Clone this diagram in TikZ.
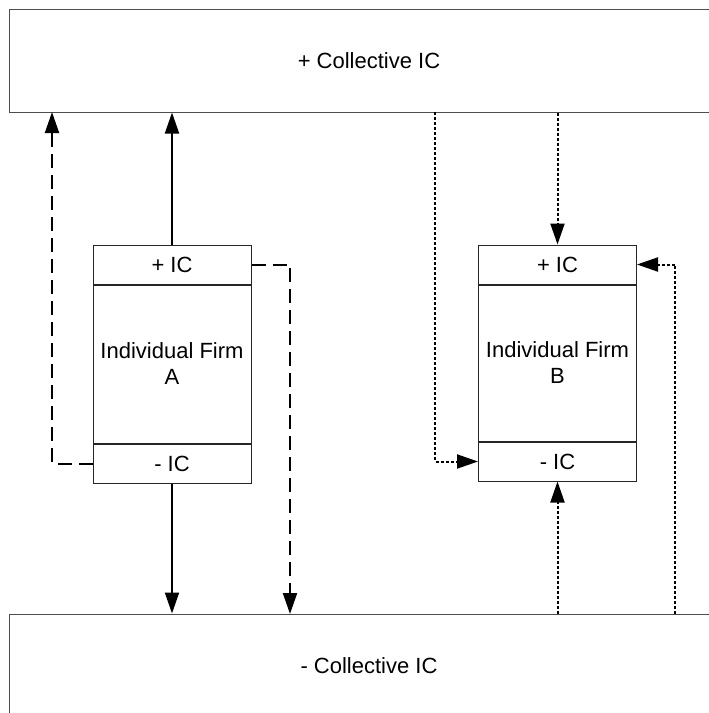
\documentclass[tikz,border=0pt]{standalone}
\usepackage{fontspec}
\setmainfont{Liberation Sans}
\usetikzlibrary{positioning, arrows.meta}
\tikzset{>={Triangle[length=21pt,width=14pt]}}
\tikzset{
    level/.style={draw=black!70, line width=1pt, minimum width=720pt, minimum height=103pt, inner sep=0pt},
    part/.style={draw=black!85, line width=1pt, minimum width=158pt, minimum height=39pt, inner sep=0pt, align=center},
    flow/.style={->, line width=2pt},
    flowdash/.style={flow, dash pattern=on 14pt off 7pt},
    flowdot/.style={flow, dash pattern=on 3pt off 2pt},
}

\begin{document}
\begin{tikzpicture}[x=1pt,y=-1pt,font=\fontsize{22}{26}\selectfont]
    \useasboundingbox (0,0) rectangle (709,713);
    % collective levels
    \node[level] (pos) at (369,60.5) {+ Collective IC};
    \node[level] (neg) at (369,665.5) {- Collective IC};
    % firm A
    \node[part] (Aplus) at (172,264.5) {+ IC};
    \node[part, minimum height=158pt, below=0pt of Aplus] (Abody) {Individual Firm\\A};
    \node[part, below=0pt of Abody] (Aminus) {- IC};
    % firm B
    \node[part] (Bplus) at (557.5,264.5) {+ IC};
    \node[part, minimum height=156pt, below=0pt of Bplus] (Bbody) {Individual Firm\\B};
    \node[part, below=0pt of Bbody] (Bminus) {- IC};
    \coordinate (dashL) at (52,112);
    \coordinate (dashR) at (290,614);
    \coordinate (dotL) at (435,112);
    \coordinate (dotR) at (675,614);
    \draw[flow] (Aplus.north) -- (Aplus.north |- pos.south);
    \draw[flow] (Aminus.south) -- (Aminus.south |- neg.north);
    \draw[flowdash] (Aminus.west) -| (dashL);
    \draw[flowdash] (Aplus.east) -| (dashR);
    \draw[flowdot] (dotL) |- (Bminus.west);
    \draw[flowdot] (Bplus.north |- pos.south) -- (Bplus.north);
    \draw[flowdot] (Bminus.south |- neg.north) -- (Bminus.south);
    \draw[flowdot] (dotR) |- (Bplus.east);
\end{tikzpicture}
\end{document}
